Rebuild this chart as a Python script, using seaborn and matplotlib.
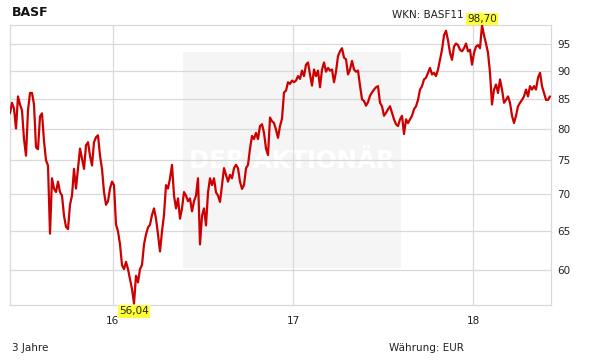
import numpy as np
import pandas as pd
import matplotlib
matplotlib.use("Agg")
import matplotlib.pyplot as plt
import matplotlib.ticker as mticker
from matplotlib.patches import Rectangle
import seaborn as sns

# ---- data ----
start_date = "2015-06-07"
end_date = "2018-06-06"
prices = [
    82.5, 84.3, 83.3, 80.0, 85.4, 84.0, 83.0, 78.3, 75.7, 83.0,
    86.0, 86.0, 84.0, 77.0, 76.7, 82.0, 82.5, 78.0, 75.0, 74.2,
    64.6, 72.3, 70.8, 70.3, 71.8, 70.3, 69.8, 67.0, 65.5, 65.2,
    68.5, 69.8, 73.7, 70.8, 73.7, 76.8, 75.2, 73.7, 77.3, 77.8,
    75.7, 74.2, 77.8, 78.6, 78.9, 75.7, 73.7, 70.3, 68.5, 69.0,
    70.8, 71.8, 71.3, 65.8, 64.9, 63.2, 60.6, 60.1, 61.0, 60.1,
    58.9, 57.7, 56.04, 59.3, 58.5, 60.1, 60.6, 63.2, 64.5, 65.4,
    65.8, 67.1, 68.0, 66.6, 64.5, 62.3, 64.9, 67.1, 71.3, 70.8,
    72.3, 74.3, 69.8, 68.0, 69.4, 66.6, 68.0, 70.3, 69.8, 69.0,
    69.4, 67.6, 69.0, 69.8, 72.3, 63.2, 67.0, 68.0, 65.7, 70.25,
    72.3, 71.3, 72.3, 70.25, 69.8, 68.9, 71.3, 73.8, 72.8, 71.8,
    72.8, 72.3, 73.8, 74.3, 73.8, 71.8, 70.75, 71.3, 73.8, 74.3,
    76.8, 78.8, 78.3, 79.3, 78.3, 80.4, 80.7, 79.3, 76.8, 75.8,
    81.8, 81.2, 80.9, 79.8, 78.5, 80.4, 81.6, 86.1, 86.4, 87.9,
    87.6, 88.2, 87.9, 88.2, 89.0, 88.5, 90.0, 89.0, 91.1, 91.5,
    89.3, 87.3, 90.2, 89.0, 90.0, 87.0, 90.2, 91.5, 89.8, 90.5,
    90.0, 90.2, 87.9, 89.8, 92.7, 93.6, 94.2, 92.4, 92.1, 89.3,
    90.2, 91.8, 90.2, 89.8, 90.0, 87.3, 84.9, 84.6, 83.8, 84.4,
    85.5, 86.1, 86.6, 87.0, 87.2, 84.3, 83.7, 82.1, 82.6, 83.2,
    83.7, 82.6, 81.5, 80.7, 80.4, 81.5, 82.1, 79.1, 81.5, 80.9,
    81.5, 82.1, 83.2, 83.7, 84.8, 86.6, 87.2, 88.4, 88.7, 89.6,
    90.5, 89.3, 89.6, 89.0, 90.2, 92.0, 93.9, 96.7, 97.6, 95.7,
    93.3, 92.0, 94.5, 95.1, 94.8, 93.9, 93.6, 94.2, 95.1, 93.6,
    93.9, 91.1, 93.3, 94.5, 94.8, 94.2, 98.7, 96.7, 95.1, 93.3,
    89.6, 84.0, 86.6, 87.5, 86.0, 88.4, 86.6, 84.3, 84.8, 85.4,
    84.3, 82.1, 80.9, 82.1, 83.7, 84.3, 84.8, 85.4, 86.6, 85.4,
    87.2, 86.6, 87.2, 86.6, 88.7, 89.6, 87.2, 86.0, 84.8, 84.8,
    85.4,
]
y_ticks = [60, 65, 70, 75, 80, 85, 90, 95]
x_tick_dates = ["2016-01-01", "2017-01-01", "2018-01-01"]
x_tick_labels = ["16", "17", "18"]
max_label = "98,70"
min_label = "56,04"

dates = pd.date_range(start_date, end_date, periods=len(prices))
df = pd.DataFrame({"date": dates, "price": prices})

# ---- figure ----
sns.set_style("white")
plt.rcParams["font.family"] = ["DejaVu Sans"]
W, H = 611, 364
fig = plt.figure(figsize=(W / 100, H / 100), dpi=100)
ax = fig.add_axes([10 / W, 1 - 305 / H, (551 - 10) / W, (305 - 25) / H])

grid_c = "#d9d9d9"

# watermark box (behind everything)
fig.patches.append(Rectangle((183 / W, 1 - 268 / H), (401 - 183) / W, (268 - 52) / H,
                             transform=fig.transFigure, facecolor="#f5f5f5",
                             edgecolor="none", zorder=-1))
ax.set_facecolor("none")
ax.text(0.5 * (183 + 401) / W, 1 - 161 / H, "DER AKTIONÄR", transform=fig.transFigure,
        ha="center", va="center", fontsize=17.5, fontweight="bold", color="white",
        zorder=0.5)

sns.lineplot(data=df, x="date", y="price", ax=ax, color="#cc0000", linewidth=1.6,
             zorder=3)

ax.set_yscale("log")
ax.set_ylim(55.87, 98.75)
ax.set_xlim(pd.Timestamp("2015-06-07"), pd.Timestamp("2018-06-08"))
ax.yaxis.set_major_locator(mticker.FixedLocator(y_ticks))
ax.yaxis.set_minor_locator(mticker.NullLocator())
ax.yaxis.set_major_formatter(mticker.FixedFormatter([str(v) for v in y_ticks]))
ax.yaxis.tick_right()
ax.set_xticks([pd.Timestamp(d) for d in x_tick_dates])
ax.set_xticklabels(x_tick_labels)
ax.tick_params(axis="both", length=0, labelsize=7.5, colors="#222222")
ax.tick_params(axis="x", pad=8)
ax.tick_params(axis="y", pad=4.5)
ax.grid(True, color=grid_c, linewidth=0.9, zorder=0)
ax.set_axisbelow(True)
for s in ax.spines.values():
    s.set_color(grid_c)
    s.set_linewidth(0.9)
ax.set_xlabel("")
ax.set_ylabel("")

# extreme labels
imax = int(np.argmax(prices))
imin = int(np.argmin(prices))
box = dict(boxstyle="square,pad=0.12", facecolor="#ffff33", edgecolor="none")
ax.annotate(max_label, (dates[imax], prices[imax]), xytext=(0, 1), textcoords="offset points",
            ha="center", va="bottom", fontsize=7.5, bbox=box, color="#222222",
            annotation_clip=False, zorder=5)
ax.annotate(min_label, (dates[imin], prices[imin]), xytext=(0, -2), textcoords="offset points",
            ha="center", va="top", fontsize=7.5, bbox=box, color="#222222",
            annotation_clip=False, zorder=5)

# header / footer texts
fig.text(12 / W, 1 - 12 / H, "BASF", fontsize=9, fontweight="bold", ha="left", va="center",
         color="#111111")
fig.text(392 / W, 1 - 15 / H, "WKN: BASF11", fontsize=7.5, ha="left", va="center",
         color="#222222", zorder=1)
fig.text(12 / W, 1 - 348 / H, "3 Jahre", fontsize=7.5, ha="left", va="center", color="#222222")
fig.text(389 / W, 1 - 348 / H, "Währung: EUR", fontsize=7.5, ha="left", va="center",
         color="#222222")

fig.savefig("out.png", dpi=100)
